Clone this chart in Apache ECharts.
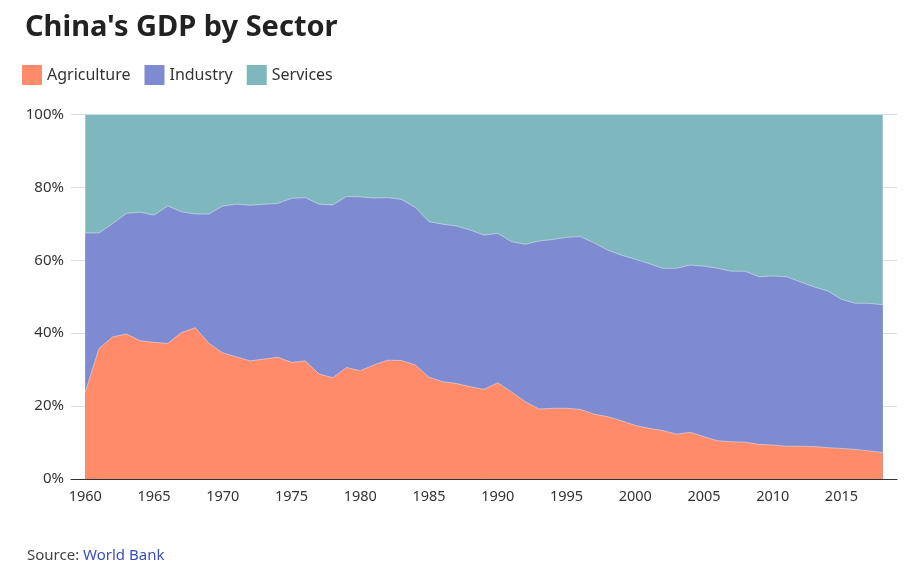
<!DOCTYPE html>
<html>
<head>
<meta charset="utf-8">
<script src="https://cdn.jsdelivr.net/npm/echarts@6/dist/echarts.min.js"></script>
<style>
html,body{margin:0;padding:0;background:#fff;}
#chart{width:919px;height:568px;}
</style>
</head>
<body>
<div id="chart"></div>
<script>
const years = [1960,1961,1962,1963,1964,1965,1966,1967,1968,1969,1970,1971,1972,1973,1974,1975,1976,1977,1978,1979,1980,1981,1982,1983,1984,1985,1986,1987,1988,1989,1990,1991,1992,1993,1994,1995,1996,1997,1998,1999,2000,2001,2002,2003,2004,2005,2006,2007,2008,2009,2010,2011,2012,2013,2014,2015,2016,2017,2018];
const agriculture = [23.9,35.8,39.0,39.8,37.9,37.5,37.2,40.2,41.5,37.2,34.6,33.5,32.4,32.9,33.4,32.0,32.4,28.8,27.8,30.6,29.7,31.3,32.6,32.5,31.3,27.9,26.7,26.2,25.3,24.6,26.4,23.9,21.2,19.2,19.4,19.4,19.1,17.8,17.1,16.0,14.7,13.9,13.3,12.3,12.8,11.6,10.5,10.2,10.1,9.5,9.3,9.0,9.0,8.9,8.6,8.4,8.1,7.7,7.3];
const industry = [43.6,31.7,31.1,33.1,35.3,34.9,37.7,33.1,31.2,35.5,40.3,41.9,42.7,42.5,42.2,45.0,44.8,46.6,47.4,46.9,47.7,45.8,44.6,44.2,43.2,42.7,43.2,43.2,43.0,42.3,41.0,41.2,43.2,46.1,46.3,46.9,47.4,47.0,45.7,45.4,45.6,45.2,44.5,45.5,45.9,46.8,47.3,46.8,46.9,46.0,46.4,46.5,45.1,43.8,43.0,40.9,40.1,40.5,40.5];
const services = [32.5,32.5,29.9,27.1,26.8,27.6,25.1,26.7,27.3,27.3,25.1,24.6,24.9,24.6,24.4,23.0,22.8,24.6,24.8,22.5,22.6,22.9,22.8,23.3,25.5,29.4,30.1,30.6,31.7,33.1,32.6,34.9,35.6,34.7,34.3,33.7,33.5,35.2,37.2,38.6,39.7,40.9,42.2,42.2,41.3,41.6,42.2,43.0,43.0,44.5,44.3,44.5,45.9,47.3,48.4,50.7,51.8,51.8,52.2];
const xTickLabels = [1960,1965,1970,1975,1980,1985,1990,1995,2000,2005,2010,2015];
const yTicks = [0,20,40,60,80,100];

const FONT = '"Noto Sans", Lato, sans-serif';
const COLORS = {Agriculture:'#ff8b6a', Industry:'#7e8bd0', Services:'#7fb7bf'};

// cumulative tops, built from the named arrays (stacked layering)
const agriTop = agriculture.map(v=>v);
const indTop = industry.map((v,i)=>agriTop[i]+v);
const servTop = services.map((v,i)=>indTop[i]+v);
const pair = arr => years.map((y,i)=>[y,+arr[i].toFixed(2)]);
const mk = (name,arr,z) => ({
  name, type:'line', data:pair(arr), symbol:'none', smooth:false, z,
  lineStyle:{width:0.7,color:'rgba(255,255,255,0.6)'},
  itemStyle:{color:COLORS[name]},
  areaStyle:{color:COLORS[name],opacity:1,origin:'start'},
  emphasis:{disabled:true}
});

const chart = echarts.init(document.getElementById('chart'));
chart.setOption({
  animation:false,
  backgroundColor:'#fff',
  textStyle:{fontFamily:FONT},
  title:[
    {text:"China's GDP by Sector",left:20,top:8,textStyle:{fontFamily:FONT,fontSize:29,fontWeight:'bold',color:'#222'}},
    {text:'{a|Source: }{b|World Bank}',left:22,top:543,textStyle:{fontWeight:'normal',rich:{a:{fontFamily:FONT,fontSize:15,fontWeight:'normal',color:'#444'},b:{fontFamily:FONT,fontSize:15,fontWeight:'normal',color:'#3b4cc0'}}}}
  ],
  legend:{
    left:22,top:65,padding:0,icon:'rect',itemWidth:20,itemHeight:20,itemGap:14,
    textStyle:{fontFamily:FONT,fontSize:16,color:'#333'},
    data:['Agriculture','Industry','Services']
  },
  grid:{left:71,right:22,top:114.5,bottom:89,containLabel:false},
  xAxis:{
    type:'value',min:1958.96,max:2019.04,
    axisLine:{show:true,lineStyle:{color:'#333',width:1}},
    axisTick:{show:false},
    splitLine:{show:false},
    axisLabel:{customValues:xTickLabels,formatter:v=>String(v),fontFamily:FONT,fontSize:14.5,color:'#333',margin:10}
  },
  yAxis:{
    type:'value',min:0,max:100,interval:20,
    axisLine:{show:false},axisTick:{show:false},
    splitLine:{show:true,lineStyle:{color:'#ddd',width:1}},
    axisLabel:{formatter:'{value}%',fontFamily:FONT,fontSize:15,color:'#333',margin:7}
  },
  series:[
    mk('Services',servTop,2),
    mk('Industry',indTop,3),
    mk('Agriculture',agriTop,4)
  ]
});
</script>
</body>
</html>
